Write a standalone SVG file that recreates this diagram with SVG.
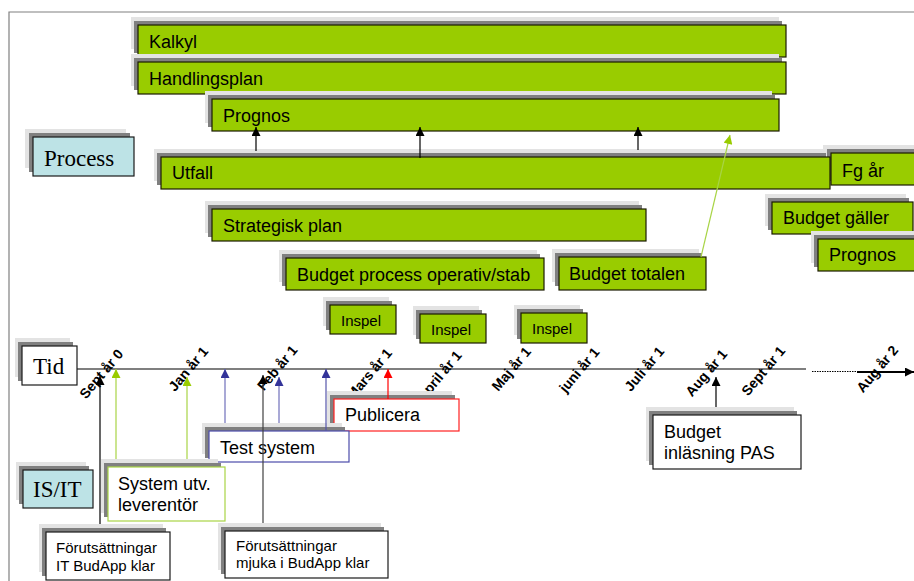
<svg xmlns="http://www.w3.org/2000/svg" width="914" height="581" viewBox="0 0 914 581">
<style>
.sl{fill:#e3e3e3}
.sd{fill:#808080}
.g{fill:#99cc00;stroke:#1a1a00;stroke-width:1.2}
.w{fill:#ffffff;stroke:#1a1a1a;stroke-width:1.2}
.b{fill:#bde3e6;stroke:#1a1a1a;stroke-width:1.2}
.t{font-family:"Liberation Sans",Arial,sans-serif;font-size:18px;fill:#000}
.s{font-family:"Liberation Sans",Arial,sans-serif;font-size:15px;fill:#000}
.r{font-family:"Liberation Serif","Times New Roman",serif;font-size:23px;fill:#000}
.m{font-family:"Liberation Sans",Arial,sans-serif;font-size:14px;font-weight:bold;fill:#000;text-anchor:middle}
.c{fill:none;stroke-width:1.2}
</style>
<defs>
<marker id="ak" viewBox="0 0 10 10" refX="10" refY="5" markerWidth="10" markerHeight="9" markerUnits="userSpaceOnUse" orient="auto"><path d="M0,0 L10,5 L0,10 z" fill="#000"/></marker>
<marker id="ag" viewBox="0 0 10 10" refX="10" refY="5" markerWidth="10" markerHeight="9" markerUnits="userSpaceOnUse" orient="auto"><path d="M0,0 L10,5 L0,10 z" fill="#99cc00"/></marker>
<marker id="ab" viewBox="0 0 10 10" refX="10" refY="5" markerWidth="10" markerHeight="9" markerUnits="userSpaceOnUse" orient="auto"><path d="M0,0 L10,5 L0,10 z" fill="#333399"/></marker>
<marker id="ar" viewBox="0 0 10 10" refX="10" refY="5" markerWidth="10" markerHeight="9" markerUnits="userSpaceOnUse" orient="auto"><path d="M0,0 L10,5 L0,10 z" fill="#ff0000"/></marker>
</defs>
<rect x="0" y="0" width="914" height="581" fill="#fff"/>
<path d="M9,581 V12 H914" fill="none" stroke="#808080" stroke-width="1.2"/>

<g id="timeline">
<line x1="77" y1="369" x2="806" y2="369" stroke="#000" stroke-width="1.2"/>
<line x1="812" y1="371.5" x2="857" y2="371.5" stroke="#000" stroke-width="1" stroke-dasharray="1.5,1"/>
<line x1="857" y1="372" x2="914" y2="372" stroke="#000" stroke-width="2.2" marker-end="url(#ak)"/>
<text class="m" transform="translate(105,377) rotate(-50)">Sept år 0</text>
<text class="m" transform="translate(192,372) rotate(-50)">Jan år 1</text>
<text class="m" transform="translate(281,371) rotate(-50)">Feb år 1</text>
<text class="m" transform="translate(373,377) rotate(-50)">Mars år 1</text>
<text class="m" transform="translate(443,379) rotate(-50)">April år 1</text>
<text class="m" transform="translate(515,372) rotate(-50)">Maj år 1</text>
<text class="m" transform="translate(583,373) rotate(-50)">juni år 1</text>
<text class="m" transform="translate(648,372) rotate(-50)">Juli år 1</text>
<text class="m" transform="translate(710,376) rotate(-50)">Aug år 1</text>
<text class="m" transform="translate(767,374) rotate(-50)">Sept år 1</text>
<text class="m" transform="translate(881,372) rotate(-50)">Aug år 2</text>
</g>

<g id="kalkyl"><rect class="sl" x="131" y="17" width="648" height="32"/><rect class="sd" x="134" y="21" width="648" height="32"/><rect class="g" x="138" y="25" width="648" height="32"/><text class="t" x="149" y="48">Kalkyl</text></g>
<g id="handlingsplan"><rect class="sl" x="131" y="54" width="648" height="32"/><rect class="sd" x="134" y="58" width="648" height="32"/><rect class="g" x="138" y="62" width="648" height="32"/><text class="t" x="149" y="85">Handlingsplan</text></g>
<g id="prognos"><rect class="sl" x="205" y="91" width="567" height="32"/><rect class="sd" x="208" y="95" width="567" height="32"/><rect class="g" x="212" y="99" width="567" height="32"/><text class="t" x="223" y="122">Prognos</text></g>
<g id="fgar"><rect class="sl" x="823" y="145" width="100" height="32"/><rect class="sd" x="827" y="149" width="100" height="32"/><rect class="g" x="831" y="153" width="100" height="32"/><text class="t" x="842" y="177">Fg år</text></g>
<g id="utfall"><rect class="sl" x="154" y="149" width="669" height="32"/><rect class="sd" x="157" y="153" width="669" height="32"/><rect class="g" x="161" y="157" width="669" height="32"/><text class="t" x="172" y="179">Utfall</text></g>
<g id="strategisk"><rect class="sl" x="205" y="201" width="434" height="32"/><rect class="sd" x="208" y="205" width="434" height="32"/><rect class="g" x="212" y="209" width="434" height="32"/><text class="t" x="223" y="232">Strategisk plan</text></g>
<g id="budgetgaller"><rect class="sl" x="765" y="194" width="141" height="32"/><rect class="sd" x="768" y="198" width="141" height="32"/><rect class="g" x="772" y="202" width="141" height="32"/><text class="t" x="783" y="224">Budget gäller</text></g>
<g id="prognos2"><rect class="sl" x="811" y="231" width="110" height="32"/><rect class="sd" x="814" y="235" width="110" height="32"/><rect class="g" x="818" y="239" width="110" height="32"/><text class="t" x="829" y="261">Prognos</text></g>
<g id="budgetprocess"><rect class="sl" x="279" y="250" width="258" height="32"/><rect class="sd" x="282" y="254" width="258" height="32"/><rect class="g" x="286" y="258" width="258" height="32"/><text class="t" x="297" y="281">Budget process operativ/stab</text></g>
<g id="budgettotalen"><rect class="sl" x="552" y="249" width="147" height="33"/><rect class="sd" x="555" y="253" width="147" height="33"/><rect class="g" x="559" y="257" width="147" height="33"/><text class="t" x="569" y="280">Budget totalen</text></g>
<g id="inspel1"><rect class="sl" x="323" y="297" width="66" height="29"/><rect class="sd" x="326" y="301" width="66" height="29"/><rect class="g" x="330" y="305" width="66" height="29"/><text class="s" x="341" y="326">Inspel</text></g>
<g id="inspel2"><rect class="sl" x="413" y="306" width="66" height="29"/><rect class="sd" x="416" y="310" width="66" height="29"/><rect class="g" x="420" y="314" width="66" height="29"/><text class="s" x="431" y="335">Inspel</text></g>
<g id="inspel3"><rect class="sl" x="514" y="305" width="66" height="30"/><rect class="sd" x="517" y="309" width="66" height="30"/><rect class="g" x="521" y="313" width="66" height="30"/><text class="s" x="532" y="334">Inspel</text></g>
<g id="process"><rect class="sl" x="25" y="129" width="101" height="39"/><rect class="sd" x="29" y="133" width="101" height="39"/><rect class="b" x="33" y="137" width="101" height="39"/><text class="r" x="44" y="166">Process</text></g>
<g id="tid"><rect class="sl" x="15" y="338" width="55" height="39"/><rect class="sd" x="18" y="342" width="55" height="39"/><rect class="w" x="22" y="346" width="55" height="39"/><text class="r" x="33" y="374">Tid</text></g>
<g id="isit"><rect class="sl" x="16" y="462" width="70" height="38"/><rect class="sd" x="19" y="466" width="70" height="38"/><rect class="b" x="23" y="470" width="70" height="38"/><text class="r" x="33" y="497">IS/IT</text></g>
<g id="publicera"><rect class="sl" x="327" y="391" width="125" height="32"/><rect class="sd" x="330" y="395" width="125" height="32"/><rect class="w" x="334" y="399" width="125" height="32" style="stroke:#ff2020"/><text class="t" x="345" y="421">Publicera</text></g>
<g id="testsystem"><rect class="sl" x="202" y="423" width="140" height="31"/><rect class="sd" x="205" y="427" width="140" height="31"/><rect class="w" x="209" y="431" width="140" height="31" style="stroke:#4b4bab"/><text class="t" x="220" y="454">Test system</text></g>
<g id="systemutv"><rect class="sl" x="101" y="459" width="117" height="54"/><rect class="sd" x="104" y="463" width="117" height="54"/><rect class="w" x="108" y="467" width="117" height="54" style="stroke:#a8d445"/><text class="t" x="118" y="490">System utv.</text><text class="t" x="118" y="511">leverentör</text></g>
<g id="budgetinlasning"><rect class="sl" x="646" y="407" width="148" height="54"/><rect class="sd" x="649" y="411" width="148" height="54"/><rect class="w" x="653" y="415" width="148" height="54"/><text class="t" x="664" y="438">Budget</text><text class="t" x="664" y="459">inläsning PAS</text></g>
<g id="forutsattningarit"><rect class="sl" x="39" y="524" width="124" height="48"/><rect class="sd" x="42" y="528" width="124" height="48"/><rect class="w" x="46" y="532" width="124" height="48"/><text class="s" x="56" y="553">Förutsättningar</text><text class="s" x="56" y="571">IT BudApp klar</text></g>
<g id="forutsattningarmjuka"><rect class="sl" x="218" y="523" width="163" height="47"/><rect class="sd" x="221" y="527" width="163" height="47"/><rect class="w" x="225" y="531" width="163" height="47"/><text class="s" x="236" y="551">Förutsättningar</text><text class="s" x="236" y="568">mjuka i BudApp klar</text></g>

<g id="connectors">
<line class="c" x1="256" y1="151" x2="256" y2="127" stroke="#000" marker-end="url(#ak)"/>
<line class="c" x1="420" y1="158" x2="420" y2="127" stroke="#000" marker-end="url(#ak)"/>
<line class="c" x1="638" y1="150" x2="638" y2="127" stroke="#000" marker-end="url(#ak)"/>
<line class="c" x1="701" y1="257" x2="730" y2="135" stroke="#a8d445" marker-end="url(#ag)"/>
<line class="c" x1="100" y1="524" x2="100" y2="376" stroke="#000" marker-end="url(#ak)"/>
<line class="c" x1="116" y1="459" x2="116" y2="369" stroke="#a8d445" marker-end="url(#ag)"/>
<line class="c" x1="187" y1="459" x2="187" y2="377" stroke="#a8d445" marker-end="url(#ag)"/>
<line class="c" x1="225" y1="423" x2="225" y2="369" stroke="#7070bb" marker-end="url(#ab)"/>
<line class="c" x1="279" y1="423" x2="279" y2="377" stroke="#7070bb" marker-end="url(#ab)"/>
<line class="c" x1="326" y1="431" x2="326" y2="369" stroke="#5555aa" marker-end="url(#ab)"/>
<line class="c" x1="263" y1="523" x2="263" y2="375" stroke="#404040" marker-end="url(#ak)"/>
<line class="c" x1="388" y1="399" x2="388" y2="369" stroke="#ff0000" marker-end="url(#ar)"/>
<line class="c" x1="716" y1="407" x2="716" y2="377" stroke="#000" marker-end="url(#ak)"/>
</g>
</svg>
